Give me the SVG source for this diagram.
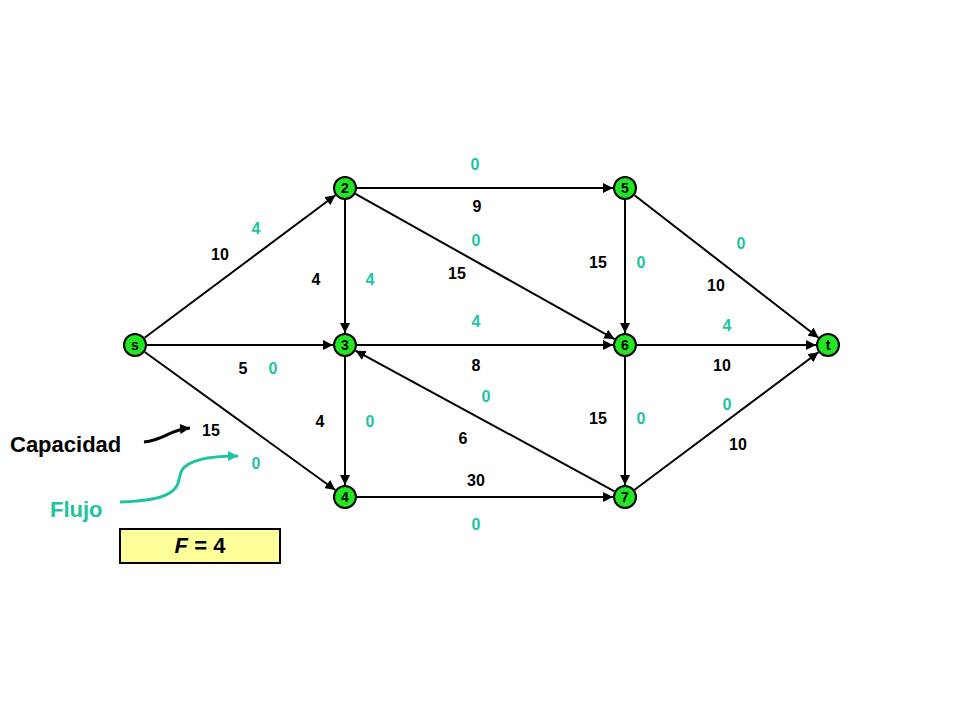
<svg xmlns="http://www.w3.org/2000/svg" width="960" height="720" viewBox="0 0 960 720">
<style>
.e{stroke:#000;stroke-width:2;fill:none;marker-end:url(#a)}
.n circle{fill:#22e622;stroke:#000;stroke-width:2}
.n text{font:bold 14px "Liberation Sans",Arial,sans-serif;text-anchor:middle;fill:#000}
.c{font:bold 16px "Liberation Sans",Arial,sans-serif;fill:#000;text-anchor:middle}
.f{font:bold 16px "Liberation Sans",Arial,sans-serif;fill:#1dc4a0;text-anchor:middle}
</style>
<defs><marker id="a" viewBox="0 0 10 10" refX="10" refY="5" markerWidth="5" markerHeight="5" orient="auto" markerUnits="userSpaceOnUse"><path d="M0,0L10,5L0,10z" fill="#000"/></marker>
<marker id="a2" viewBox="0 0 10 10" refX="10" refY="5" markerWidth="10" markerHeight="10" orient="auto" markerUnits="userSpaceOnUse"><path d="M0,0L10,5L0,10z" fill="#000"/></marker>
<marker id="a3" viewBox="0 0 10 10" refX="10" refY="5" markerWidth="10" markerHeight="10" orient="auto" markerUnits="userSpaceOnUse"><path d="M0,0L10,5L0,10z" fill="#1dc4a0"/></marker></defs>
<rect width="960" height="720" fill="#fff"/>
<g id="connectors">
<line class="e" x1="144.6" y1="337.8" x2="335.4" y2="195.2" style="marker-end:url(#a2)"/>
<line class="e" x1="147" y1="345" x2="333" y2="345" style="marker-end:url(#a2)"/>
<line class="e" x1="144.7" y1="352" x2="335.3" y2="490" style="marker-end:url(#a2)"/>
<line class="e" x1="357" y1="188" x2="613" y2="188" style="marker-end:url(#a2)"/>
<line class="e" x1="345" y1="200" x2="345" y2="333" style="marker-end:url(#a2)"/>
<line class="e" x1="355.5" y1="193.9" x2="614.5" y2="339.1" style="marker-end:url(#a2)"/>
<line class="e" x1="625" y1="200" x2="625" y2="333" style="marker-end:url(#a2)"/>
<line class="e" x1="634.5" y1="195.3" x2="818.5" y2="337.7" style="marker-end:url(#a2)"/>
<line class="e" x1="357" y1="345" x2="613" y2="345" style="marker-end:url(#a2)"/>
<line class="e" x1="637" y1="345" x2="816" y2="345" style="marker-end:url(#a2)"/>
<line class="e" x1="345" y1="357" x2="345" y2="485" style="marker-end:url(#a2)"/>
<line class="e" x1="625" y1="357" x2="625" y2="485" style="marker-end:url(#a2)"/>
<line class="e" x1="614.5" y1="491.3" x2="355.5" y2="350.7" style="marker-end:url(#a2)"/>
<line class="e" x1="357" y1="497" x2="613" y2="497" style="marker-end:url(#a2)"/>
<line class="e" x1="634.6" y1="489.8" x2="818.4" y2="352.2" style="marker-end:url(#a2)"/>
<path d="M144,442 C165,440 168,430 190,428" stroke="#000" stroke-width="3" fill="none" marker-end="url(#a2)"/>
<path d="M120,502 C190,500 175,480 182,470 C190,458 215,456 238,456" stroke="#1dc4a0" stroke-width="3" fill="none" marker-end="url(#a3)"/>
</g>
<g id="node-s" class="n"><circle cx="135" cy="345" r="11"/><text x="135" y="350">s</text></g>
<g id="node-2" class="n"><circle cx="345" cy="188" r="11"/><text x="345" y="193">2</text></g>
<g id="node-5" class="n"><circle cx="625" cy="188" r="11"/><text x="625" y="193">5</text></g>
<g id="node-3" class="n"><circle cx="345" cy="345" r="11"/><text x="345" y="350">3</text></g>
<g id="node-6" class="n"><circle cx="625" cy="345" r="11"/><text x="625" y="350">6</text></g>
<g id="node-t" class="n"><circle cx="828" cy="345" r="11"/><text x="828" y="350">t</text></g>
<g id="node-4" class="n"><circle cx="345" cy="497" r="11"/><text x="345" y="502">4</text></g>
<g id="node-7" class="n"><circle cx="625" cy="497" r="11"/><text x="625" y="502">7</text></g>
<g id="labels">
<text class="f" x="475" y="170">0</text><text class="c" x="477" y="212">9</text>
<text class="f" x="256" y="234">4</text><text class="c" x="220" y="260">10</text>
<text class="f" x="476" y="246">0</text><text class="c" x="457" y="279">15</text>
<text class="c" x="316" y="285">4</text><text class="f" x="370" y="285">4</text>
<text class="c" x="598" y="268">15</text><text class="f" x="641" y="268">0</text>
<text class="f" x="741" y="249">0</text><text class="c" x="716" y="291">10</text>
<text class="f" x="476" y="327">4</text><text class="c" x="476" y="371">8</text>
<text class="f" x="727" y="331">4</text><text class="c" x="722" y="371">10</text>
<text class="c" x="243" y="374">5</text><text class="f" x="273" y="374">0</text>
<text class="f" x="486" y="402">0</text><text class="c" x="463" y="444">6</text>
<text class="c" x="320" y="427">4</text><text class="f" x="370" y="427">0</text>
<text class="c" x="598" y="424">15</text><text class="f" x="641" y="424">0</text>
<text class="f" x="727" y="410">0</text><text class="c" x="738" y="450">10</text>
<text class="c" x="211" y="436">15</text><text class="f" x="256" y="469">0</text>
<text class="c" x="476" y="486">30</text><text class="f" x="476" y="530">0</text>
<text x="10" y="452" style="font:bold 22px 'Liberation Sans',Arial,sans-serif;fill:#000">Capacidad</text>
<text x="50" y="517" style="font:bold 22px 'Liberation Sans',Arial,sans-serif;fill:#1dc4a0">Flujo</text>
<rect x="120" y="529" width="160" height="34" fill="#ffff99" stroke="#000" stroke-width="2"/>
<text x="200" y="553" style="font:bold 22px 'Liberation Sans',Arial,sans-serif;fill:#000;text-anchor:middle"><tspan font-style="italic">F</tspan> = 4</text>
</g>
</svg>
